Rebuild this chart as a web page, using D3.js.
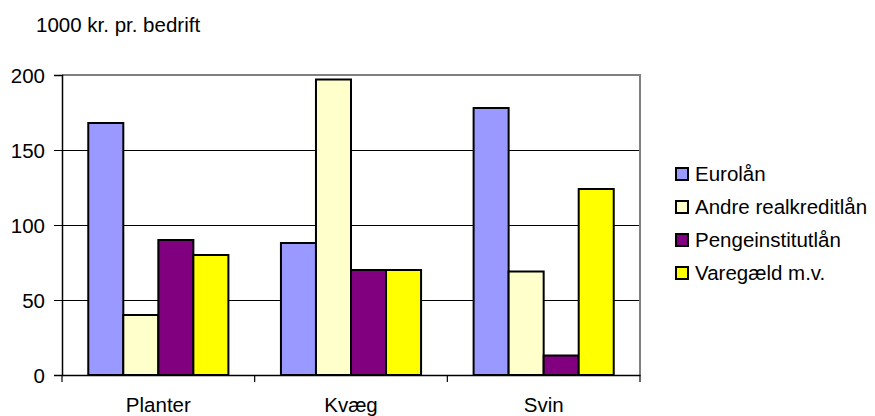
<!DOCTYPE html>
<html>
<head>
<meta charset="utf-8">
<script src="https://cdn.jsdelivr.net/npm/d3@7"></script>
<style>
  body { margin: 0; background: #fff; }
  svg { display: block; font-family: "Liberation Sans", Arial, sans-serif; }
  .tick-label { font-size: 20.5px; fill: #000; }
</style>
</head>
<body>
<div id="chart"></div>
<script>
const categories = ["Planter", "Kvæg", "Svin"];
const seriesNames = ["Eurolån", "Andre realkreditlån", "Pengeinstitutlån", "Varegæld m.v."];
const eurolaan = [168, 88, 178];
const andreRealkredit = [40, 197, 69];
const pengeinstitut = [90, 70, 13];
const varegaeld = [80, 70, 124];
const yTicks = [0, 50, 100, 150, 200];
const yTitle = "1000 kr. pr. bedrift";

const seriesValues = [eurolaan, andreRealkredit, pengeinstitut, varegaeld];

const color = d3.scaleOrdinal()
  .domain(seriesNames)
  .range(["#9999ff", "#ffffcc", "#800080", "#ffff00"]);

const width = 875;
const height = 416;
const plot = { left: 62, right: 640, top: 75, bottom: 375 };

const svg = d3.select("#chart")
  .append("svg")
  .attr("width", width)
  .attr("height", height);

const x0 = d3.scaleBand()
  .domain(categories)
  .range([plot.left, plot.right])
  .padding(0);

const x1 = d3.scaleBand()
  .domain(seriesNames)
  .range([0, x0.bandwidth()])
  .paddingInner(0)
  .paddingOuter(0.75);

const y = d3.scaleLinear()
  .domain([0, 200])
  .range([plot.bottom, plot.top]);

// gridlines
svg.append("g")
  .selectAll("line")
  .data(yTicks.filter(t => t > 0 && t < 200))
  .enter()
  .append("line")
  .attr("x1", plot.left)
  .attr("x2", plot.right)
  .attr("y1", d => y(d) + 0.5)
  .attr("y2", d => y(d) + 0.5)
  .attr("stroke", "#000")
  .attr("stroke-width", 1);

// plot border top/right (grey)
svg.append("path")
  .attr("d", `M${plot.left},${y(200)}H${plot.right}V${plot.bottom}`)
  .attr("fill", "none")
  .attr("stroke", "#808080")
  .attr("stroke-width", 2);

// bars
const rows = categories.map((c, i) => ({
  category: c,
  values: seriesNames.map((s, j) => ({ series: s, value: seriesValues[j][i] }))
}));

svg.append("g")
  .selectAll("g")
  .data(rows)
  .enter()
  .append("g")
  .attr("transform", d => `translate(${x0(d.category)},0)`)
  .selectAll("rect")
  .data(d => d.values)
  .enter()
  .append("rect")
  .attr("x", d => x1(d.series))
  .attr("y", d => y(d.value))
  .attr("width", x1.bandwidth())
  .attr("height", d => y(0) - y(d.value))
  .attr("fill", d => color(d.series))
  .attr("stroke", "#000")
  .attr("stroke-width", 2);

// y axis
const yAxis = d3.axisLeft(y)
  .tickValues(yTicks)
  .tickSize(8)
  .tickPadding(9)
  .tickFormat(d3.format("d"));

const yg = svg.append("g")
  .attr("transform", `translate(${plot.left},0)`)
  .call(yAxis);
yg.select(".domain").attr("stroke", "#000").attr("stroke-width", 1.5);
yg.selectAll(".tick line").attr("stroke", "#000").attr("x2", 1).attr("x1", -8);
yg.selectAll(".tick text")
  .attr("class", "tick-label")
  .attr("dy", "0.36em")
  .style("font-family", "inherit");

// x axis
const xAxis = d3.axisBottom(x0)
  .tickSize(0)
  .tickPadding(22);

const xg = svg.append("g")
  .attr("transform", `translate(0,${plot.bottom})`)
  .call(xAxis);
xg.select(".domain").attr("stroke", "#000").attr("stroke-width", 1.5);
xg.selectAll(".tick text")
  .attr("class", "tick-label")
  .style("font-family", "inherit");

// category separator ticks
const sepTicks = [plot.left].concat(categories.map(c => x0(c) + x0.bandwidth()));
xg.selectAll(".sep")
  .data(sepTicks)
  .enter()
  .append("line")
  .attr("class", "sep")
  .attr("x1", d => d)
  .attr("x2", d => d)
  .attr("y1", 0)
  .attr("y2", 7)
  .attr("stroke", "#000")
  .attr("stroke-width", 1.2);

// axis title
svg.append("text")
  .attr("x", 36)
  .attr("y", 32)
  .attr("class", "tick-label")
  .text(yTitle);

// legend
const legend = svg.append("g")
  .attr("transform", "translate(675,174)");

seriesNames.forEach((s, i) => {
  const row = legend.append("g")
    .attr("transform", `translate(0,${i * 33})`);

  row.append("rect")
    .attr("x", 1)
    .attr("y", -6)
    .attr("width", 12)
    .attr("height", 12)
    .attr("fill", color(s))
    .attr("stroke", "#000")
    .attr("stroke-width", 2);

  row.append("text")
    .attr("x", 20)
    .attr("y", 0)
    .attr("dy", "0.36em")
    .attr("class", "tick-label")
    .text(s);
});
</script>
</body>
</html>
